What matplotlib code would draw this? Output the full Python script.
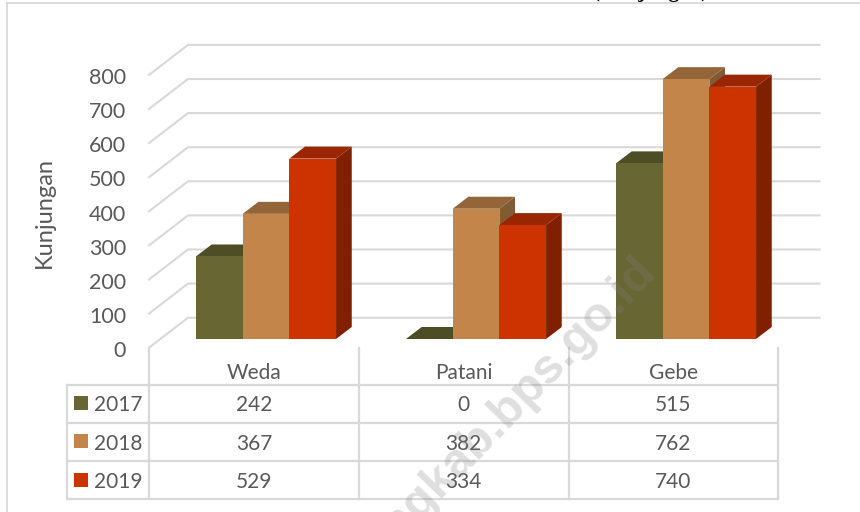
import matplotlib
matplotlib.use("Agg")
import matplotlib.pyplot as plt
from matplotlib.patches import Polygon, Rectangle

# ---- data ----
categories = ["Weda", "Patani", "Gebe"]
years = ["2017", "2018", "2019"]
v2017 = [242, 0, 515]
v2018 = [367, 382, 762]
v2019 = [529, 334, 740]
series = [v2017, v2018, v2019]
yticks = [0, 100, 200, 300, 400, 500, 600, 700, 800]
front = ["#686633", "#C3854A", "#CC3300"]
top = ["#4E4E26", "#946538", "#992600"]
side = ["#4A4A24", "#7F5C34", "#802000"]

GRID = "#D9D9D9"
TXT = "#595959"
plt.rcParams["font.family"] = ["Lato", "DejaVu Sans"]

W, H = 860, 512
fig = plt.figure(figsize=(W / 100, H / 100), dpi=100, facecolor="white")

# pixel overlay for frame / table
px = fig.add_axes([0, 0, 1, 1], zorder=1)
px.set_xlim(0, W); px.set_ylim(H, 0); px.axis("off")

# data axes: category index / value, fitted to the front plane of the 3D bars
PX0, PXS = 266.0, 210.0     # px of category 0, px per category
PY0, PYS = 339.0, 0.341     # px of value 0, px per value
ax = fig.add_axes([0, 0, 1, 1], zorder=2)
ax.set_xlim((0 - PX0) / PXS, (W - PX0) / PXS)
ax.set_ylim((PY0 - H) / PYS, PY0 / PYS)
ax.axis("off"); ax.patch.set_alpha(0)

bw = 46.7 / PXS
dx = 15.7 / PXS
dy = 12.0 / PYS

# frame
px.plot([7, 7], [3, H], color=GRID, lw=1.3)
px.plot([7, W], [3, 3], color=GRID, lw=1.3)

# back wall gridlines and left diagonals
xl_back = (188 - PX0) / PXS
xl_front = (149 - PX0) / PXS
xr_back = (819.5 - PX0) / PXS
wall = (PY0 - 317.7) / PYS
floor = (PY0 - 347.7) / PYS
for t in yticks:
    ax.plot([xl_front, xl_back, xr_back], [t + floor, t + wall, t + wall],
            color=GRID, lw=1.5, solid_joinstyle="miter", zorder=1)

# bars
for i in range(len(categories)):
    for s, vals in enumerate(series):
        v = vals[i]
        x0 = i + (s - 1.5) * bw
        x1 = x0 + bw
        ax.add_patch(Polygon([(x0, v), (x1, v), (x1 + dx, v + dy), (x0 + dx, v + dy)],
                             closed=True, fc=top[s], ec="none", zorder=3))
        if v > 0:
            ax.add_patch(Polygon([(x1, 0), (x1 + dx, dy), (x1 + dx, v + dy), (x1, v)],
                                 closed=True, fc=side[s], ec="none", zorder=3))
            ax.bar(x0, v, width=bw, align="edge", color=front[s], zorder=3)

# y tick labels & axis title
for t in yticks:
    px.text(126, PY0 + 12 - t * PYS, str(t), ha="right", va="center", fontsize=15.5, color=TXT)
px.text(44, 213, "Kunjungan", rotation=90, ha="center", va="center", fontsize=17, color=TXT)

# data table
vx = [149, 359, 568.5, 778]
hy = [384.7, 422.7, 461, 499.3]
for x in vx:
    px.plot([x, x], [347.7, hy[-1]], color=GRID, lw=1.6, zorder=1)
for y in hy:
    px.plot([66.5, 778], [y, y], color=GRID, lw=1.6, zorder=1)
px.plot([66.5, 66.5], [hy[0], hy[-1]], color=GRID, lw=1.6, zorder=1)

cx = [254, 463.5, 673]
for c, name in zip(cx, categories):
    px.text(c, 373, name, ha="center", va="center", fontsize=15, color=TXT)
rows = [405, 443.5, 482]
squares = [396, 434, 473]
for r, sq, yr, col, vals in zip(rows, squares, years, front, series):
    px.add_patch(Rectangle((74, sq), 14, 14, fc=col, ec="none", zorder=2))
    px.text(94, r, yr, ha="left", va="center", fontsize=15, color=TXT)
    for c, v in zip(cx, vals):
        px.text(c, r, str(v), ha="center", va="center", fontsize=15, color=TXT)

# caption cut off by the picture's top edge, as in the reference
px.text(650, -3.2, "(Kunjungan)", ha="center", va="baseline", fontsize=15,
        family="Liberation Serif", fontweight="bold", color="black", clip_on=True)

# watermark
fig.text(657 / W, 1 - 272 / H, "haltengkab.bps.go.id", rotation=46, rotation_mode="anchor",
         ha="right", va="baseline", fontsize=35, family="Liberation Sans", fontweight="bold",
         color="#808080", alpha=0.25, zorder=5)

fig.savefig("out.png", dpi=100)
